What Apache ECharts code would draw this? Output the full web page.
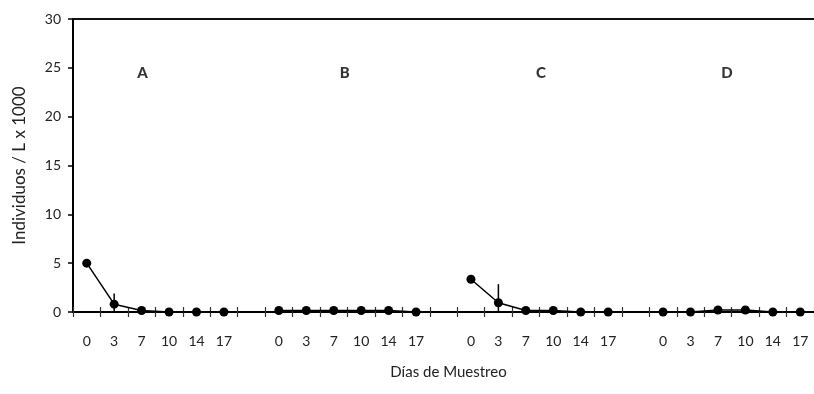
<!DOCTYPE html>
<html>
<head>
<meta charset="utf-8">
<script src="https://cdn.jsdelivr.net/npm/echarts@6/dist/echarts.min.js"></script>
<style>
  html, body { margin: 0; padding: 0; background: #fff; }
  #chart { width: 814px; height: 394px; }
</style>
</head>
<body>
<div id="chart"></div>
<script>
var groups = ['A', 'B', 'C', 'D'];
var days = ['0', '3', '7', '10', '14', '17'];
var yTicks = [0, 5, 10, 15, 20, 25, 30];

// mean values per group (Individuos / L x 1000)
var valuesA = [5.0, 0.8, 0.15, 0, 0, 0];
var valuesB = [0.15, 0.15, 0.15, 0.15, 0.15, 0];
var valuesC = [3.35, 0.95, 0.15, 0.15, 0, 0];
var valuesD = [0, 0, 0.2, 0.2, 0, 0];

// error (+/-) per point
var errA = [0, 1.1, 0, 0, 0, 0];
var errB = [0, 0, 0, 0, 0, 0];
var errC = [0, 1.9, 0, 0, 0, 0];
var errD = [0, 0, 0, 0, 0, 0];

var groupLabelY = 24.5;
var groupLabelSlot = [2, 9, 16, 23];

var allValues = [valuesA, valuesB, valuesC, valuesD];
var allErrors = [errA, errB, errC, errD];

var FONT = "Lato, 'Open Sans', sans-serif";
var slotsPerGroup = days.length + 1;

// categories: 6 days per group, one blank slot between groups
var categories = [];
for (var g = 0; g < groups.length; g++) {
	for (var i = 0; i < days.length; i++) {
		categories.push(days[i]);
	}
	if (g < groups.length - 1) {
		categories.push('');
	}
}

var chart = echarts.init(document.getElementById('chart'));

var series = [];
var errData = [];
for (var g = 0; g < groups.length; g++) {
	var data = [];
	for (var i = 0; i < days.length; i++) {
		var idx = g * slotsPerGroup + i;
		data.push([idx, allValues[g][i]]);
		if (allErrors[g][i] > 0) {
			errData.push([idx, Math.max(0, allValues[g][i] - allErrors[g][i]), allValues[g][i] + allErrors[g][i]]);
		}
	}
	series.push({
		name: groups[g],
		type: 'line',
		xAxisIndex: 0,
		data: data,
		symbol: 'circle',
		symbolSize: 9,
		itemStyle: { color: '#000' },
		lineStyle: { color: '#000', width: 1.5 },
		z: 3
	});
}

series.push({
	name: 'error',
	type: 'custom',
	xAxisIndex: 0,
	data: errData,
	encode: { x: 0, y: [1, 2] },
	renderItem: function (params, api) {
		var p1 = api.coord([api.value(0), api.value(1)]);
		var p2 = api.coord([api.value(0), api.value(2)]);
		return {
			type: 'line',
			shape: { x1: p1[0], y1: p1[1], x2: p2[0], y2: p2[1] },
			style: { stroke: '#000', lineWidth: 1.5 }
		};
	},
	z: 4
});

var labelOffsets = [[1, 0], [11, 0], [15, 0], [9, 0]];
var labelData = [];
for (var g = 0; g < groups.length; g++) {
	labelData.push({
		value: [groupLabelSlot[g], groupLabelY],
		name: groups[g],
		label: { offset: labelOffsets[g] }
	});
}
series.push({
	name: 'groups',
	type: 'scatter',
	xAxisIndex: 0,
	symbolSize: 0,
	data: labelData,
	label: {
		show: true,
		position: 'inside',
		formatter: '{b}',
		fontFamily: FONT,
		fontWeight: 900,
		fontSize: 15,
		color: '#000'
	},
	silent: true
});

var option = {
	animation: false,
	backgroundColor: '#fff',
	grid: { left: 73, right: -7, top: 19, bottom: 82 },
	xAxis: [{
		type: 'category',
		position: 'bottom',
		data: categories,
		boundaryGap: true,
		name: 'Días de Muestreo',
		nameLocation: 'middle',
		nameGap: 53,
		nameTextStyle: { fontFamily: FONT, fontSize: 15, color: '#222', padding: [0, 0, 0, 10] },
		axisLine: { lineStyle: { color: '#000', width: 2 } },
		axisTick: { show: true, interval: 0, length: 5, lineStyle: { color: '#333', width: 1.2 } },
		axisLabel: { interval: 0, margin: 22, fontFamily: FONT, fontSize: 14, color: '#222' },
		splitLine: { show: false }
	}, {
		type: 'category',
		position: 'bottom',
		data: categories,
		boundaryGap: true,
		axisLine: { show: false },
		axisTick: { show: true, inside: true, interval: 0, length: 5, lineStyle: { color: '#333', width: 1.2 } },
		axisLabel: { show: false },
		splitLine: { show: false }
	}, {
		type: 'category',
		position: 'top',
		data: categories,
		axisLine: { lineStyle: { color: '#111', width: 2 } },
		axisTick: { show: false },
		axisLabel: { show: false },
		splitLine: { show: false }
	}],
	yAxis: {
		type: 'value',
		min: yTicks[0],
		max: yTicks[yTicks.length - 1],
		interval: yTicks[1] - yTicks[0],
		name: 'Individuos / L x 1000',
		nameLocation: 'middle',
		nameGap: 45,
		nameTextStyle: { fontFamily: FONT, fontSize: 17, color: '#222' },
		axisLine: { show: true, lineStyle: { color: '#000', width: 2 } },
		axisTick: { show: true, length: 5, lineStyle: { color: '#000', width: 1.5 } },
		axisLabel: { margin: 12, fontFamily: FONT, fontSize: 14, color: '#222' },
		splitLine: { show: false }
	},
	series: series
};

chart.setOption(option);
</script>
</body>
</html>
